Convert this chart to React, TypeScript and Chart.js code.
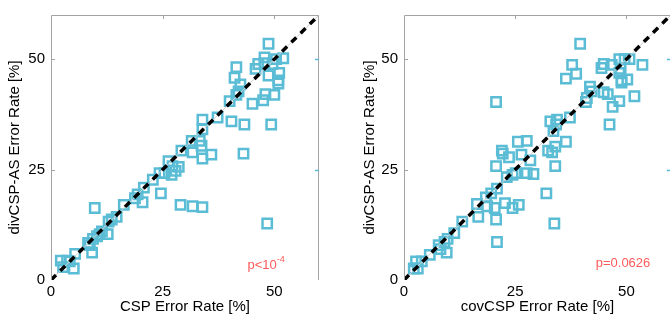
import React, { useEffect, useRef } from "react";
import { Chart, registerables } from "chart.js";

Chart.register(...registerables);

const AXIS_MIN = 0;
const AXIS_MAX = 60;
const TICKS = [0, 25, 50];
const DIAG_X = [0, 60];
const DIAG_Y = [0, 60];

const LEFT_X_LABEL = "CSP Error Rate [%]";
const RIGHT_X_LABEL = "covCSP Error Rate [%]";
const Y_LABEL = "divCSP-AS Error Rate [%]";

const LEFT_P = "p<10";
const LEFT_P_SUP = "-4";
const RIGHT_P = "p=0.0626";

const LEFT_X = [
  48.7, 41.5, 41.1, 42.4, 42.0, 41.5, 40.0, 45.8, 46.4, 47.8, 47.8, 49.6, 50.4, 52.0, 51.1, 48.7,
  50.9, 50.9, 50.0, 48.0, 47.5, 45.1, 37.3, 40.4, 43.3, 49.3, 33.9, 33.9, 31.5, 33.3, 33.7, 35.9,
  31.7, 33.9, 43.1, 29.2, 26.3, 28.6, 27.2, 24.3, 25.4, 27.0, 27.9, 22.8, 20.8, 19.4, 24.6, 29.0,
  31.7, 33.9, 48.4, 9.8, 16.3, 18.8, 13.6, 12.9, 11.4, 12.7, 10.9, 9.4, 8.3, 8.7, 9.2, 5.4,
  3.6, 2.2, 4.2, 2.7, 5.1, 20.5, 14.7, 10.3,
];
const LEFT_Y = [
  53.5, 48.2, 45.8, 44.3, 42.7, 41.9, 40.5, 47.8, 48.9, 50.4, 49.1, 48.9, 50.0, 50.2, 46.9, 46.3,
  45.2, 44.5, 41.9, 42.1, 40.7, 39.9, 36.8, 35.9, 35.2, 35.2, 36.3, 34.1, 31.5, 31.5, 30.4, 28.4,
  28.9, 27.5, 28.6, 29.3, 26.9, 25.6, 25.8, 24.2, 24.2, 23.8, 24.7, 22.7, 20.9, 19.4, 19.6, 17.0,
  16.7, 16.5, 12.8, 16.3, 17.0, 18.5, 13.7, 13.2, 11.0, 10.4, 10.4, 9.3, 8.4, 7.9, 6.2, 5.9,
  4.4, 4.4, 4.2, 2.9, 2.6, 17.6, 14.3, 9.9,
];

const RIGHT_X = [
  39.6, 20.7, 37.8, 38.7, 36.4, 41.8, 42.2, 41.1, 40.9, 44.9, 45.8, 46.9, 48.4, 51.8, 46.2, 44.4,
  44.9, 46.7, 48.4, 49.6, 50.7, 48.7, 48.4, 48.9, 50.2, 48.9, 53.6, 37.3, 32.9, 34.4, 34.2, 33.6,
  36.4, 34.0, 33.3, 27.6, 25.6, 22.0, 22.2, 23.6, 26.4, 28.4, 20.7, 34.0, 23.1, 24.4, 25.1, 27.6,
  29.1, 32.0, 20.9, 19.6, 18.4, 16.4, 18.7, 20.4, 22.7, 24.4, 25.8, 16.7, 20.7, 33.8, 20.9, 13.1,
  11.3, 9.8, 9.1, 7.8, 9.6, 8.2, 5.8, 4.0, 2.7, 2.2, 3.1, 32.4,
];
const RIGHT_Y = [
  53.5, 40.3, 48.7, 46.7, 45.6, 43.8, 42.7, 41.2, 40.3, 42.5, 42.1, 39.2, 40.5, 41.6, 35.2, 48.0,
  48.9, 48.7, 50.0, 50.0, 50.0, 47.8, 46.9, 45.2, 45.4, 44.7, 48.7, 36.8, 35.9, 36.3, 35.2, 33.7,
  31.3, 30.2, 28.9, 31.5, 31.3, 29.3, 28.6, 27.8, 28.4, 27.1, 25.8, 25.8, 23.3, 23.8, 24.2, 24.2,
  24.0, 19.6, 20.7, 19.6, 18.7, 17.2, 16.7, 16.3, 17.4, 16.3, 17.0, 14.3, 13.7, 12.8, 8.6, 13.2,
  10.6, 9.3, 8.6, 7.9, 6.2, 7.0, 5.7, 4.2, 4.2, 2.6, 2.6, 29.3,
];

const FONT = '"Liberation Sans", Arial, Helvetica, sans-serif';
const MARKER = "#5bbdd5";
const FRAME = "#a3a3a3";
const P_COLOR = "#ff5a5a";

const framePlugin = {
  id: "frameDecor",
  afterDraw(chart: any, _args: any, opts: any) {
    const { ctx, chartArea, scales } = chart;
    const { left, top, right, bottom } = chartArea;
    const xs = scales.x;
    const ys = scales.y;
    ctx.save();
    ctx.strokeStyle = FRAME;
    ctx.lineWidth = 1;
    ctx.beginPath();
    ctx.moveTo(Math.round(left) + 0.5, bottom);
    ctx.lineTo(Math.round(left) + 0.5, Math.round(top) + 0.5);
    ctx.lineTo(Math.round(right) - 0.5, Math.round(top) + 0.5);
    ctx.lineTo(Math.round(right) - 0.5, bottom);
    ctx.stroke();
    ctx.beginPath();
    for (const t of TICKS) {
      if (t === 0) continue;
      const px = Math.round(xs.getPixelForValue(t)) + 0.5;
      ctx.moveTo(px, top);
      ctx.lineTo(px, top + 4);
      const py = Math.round(ys.getPixelForValue(t)) + 0.5;
      ctx.moveTo(left, py);
      ctx.lineTo(left + 4, py);
    }
    ctx.stroke();
    ctx.strokeStyle = MARKER;
    ctx.lineWidth = 1.5;
    ctx.beginPath();
    for (const t of TICKS) {
      if (t === 0) continue;
      const py = Math.round(ys.getPixelForValue(t)) + 0.5;
      ctx.moveTo(right - 4, py);
      ctx.lineTo(right, py);
    }
    ctx.stroke();
    // p-value annotation
    ctx.fillStyle = P_COLOR;
    ctx.font = "13px " + FONT;
    ctx.textBaseline = "alphabetic";
    ctx.textAlign = "left";
    const tx = xs.getPixelForValue(opts.tx);
    const ty = ys.getPixelForValue(opts.ty);
    ctx.fillText(opts.text, tx, ty);
    if (opts.sup) {
      const w = ctx.measureText(opts.text).width;
      ctx.font = "9px " + FONT;
      ctx.fillText(opts.sup, tx + w, ty - 7);
    }
    ctx.restore();
  },
};

function buildConfig(
  xs: number[],
  ys: number[],
  xLabel: string,
  yAxisWidth: number,
  rightPad: number,
  yTitlePad: number,
  ann: { text: string; sup?: string; tx: number; ty: number }
): any {
  const pts = xs.map((x, i) => ({ x, y: ys[i] }));
  const diag = DIAG_X.map((x, i) => ({ x, y: DIAG_Y[i] }));
  return {
    type: "scatter",
    data: {
      datasets: [
        {
          data: diag,
          showLine: true,
          borderColor: "#000000",
          borderWidth: 3.5,
          borderDash: [7, 6],
          pointRadius: 0,
          order: 0,
        },
        {
          data: diag,
          showLine: true,
          borderColor: "#d0d0d0",
          borderWidth: 1,
          pointRadius: 0,
          order: 1,
        },
        {
          data: pts,
          pointStyle: "rect",
          pointRadius: 6.6,
          pointBorderWidth: 2.5,
          pointBorderColor: MARKER,
          pointBackgroundColor: "rgba(0,0,0,0)",
          borderColor: MARKER,
          backgroundColor: "rgba(0,0,0,0)",
          order: 2,
        },
      ],
    },
    options: {
      responsive: false,
      animation: false,
      events: [],
      layout: { padding: { top: 7, right: rightPad, left: 0, bottom: 0 } },
      plugins: {
        legend: { display: false },
        tooltip: { enabled: false },
        frameDecor: ann,
      },
      scales: {
        x: {
          type: "linear",
          min: AXIS_MIN,
          max: AXIS_MAX,
          grid: { display: false, drawTicks: false },
          border: { display: false },
          afterBuildTicks: (s: any) => {
            s.ticks = TICKS.map((v) => ({ value: v }));
          },
          afterFit: (s: any) => {
            s.height = 42;
          },
          ticks: {
            padding: 3,
            color: "#000",
            font: { size: 15, family: FONT },
            maxRotation: 0,
            callback: (v: any) => String(v),
          },
          title: {
            display: true,
            text: xLabel,
            color: "#000",
            font: { size: 15, family: FONT },
            padding: { top: 0, bottom: 6 },
          },
        },
        y: {
          type: "linear",
          min: AXIS_MIN,
          max: AXIS_MAX,
          grid: { display: false, drawTicks: false },
          border: { display: false },
          afterBuildTicks: (s: any) => {
            s.ticks = TICKS.map((v) => ({ value: v }));
          },
          afterFit: (s: any) => {
            s.width = yAxisWidth;
          },
          ticks: {
            padding: 6,
            color: "#000",
            font: { size: 15, family: FONT },
            callback: (v: any) => String(v),
          },
          title: {
            display: true,
            text: Y_LABEL,
            color: "#000",
            font: { size: 15, family: FONT },
            padding: { top: yTitlePad, bottom: 0 },
          },
        },
      },
    },
    plugins: [framePlugin],
  };
}

export default function App() {
  const leftRef = useRef<HTMLCanvasElement | null>(null);
  const rightRef = useRef<HTMLCanvasElement | null>(null);

  useEffect(() => {
    Chart.defaults.font.family = FONT;
    const c1 = new Chart(
      leftRef.current as HTMLCanvasElement,
      buildConfig(LEFT_X, LEFT_Y, LEFT_X_LABEL, 51, 16, 6, {
        text: LEFT_P,
        sup: LEFT_P_SUP,
        tx: 44,
        ty: 2.6,
      })
    );
    const c2 = new Chart(
      rightRef.current as HTMLCanvasElement,
      buildConfig(RIGHT_X, RIGHT_Y, RIGHT_X_LABEL, 69, 6, 25.5, {
        text: RIGHT_P,
        tx: 43.1,
        ty: 2.9,
      })
    );
    return () => {
      c1.destroy();
      c2.destroy();
    };
  }, []);

  return (
    <div
      style={{
        position: "fixed",
        left: 0,
        top: 0,
        width: 670,
        height: 322,
        overflow: "hidden",
        background: "#fff",
      }}
    >
      <canvas
        ref={leftRef}
        width={335}
        height={322}
        style={{ position: "absolute", left: 0, top: 0, width: 335, height: 322 }}
      />
      <canvas
        ref={rightRef}
        width={345}
        height={322}
        style={{ position: "absolute", left: 335, top: 0, width: 345, height: 322 }}
      />
    </div>
  );
}
